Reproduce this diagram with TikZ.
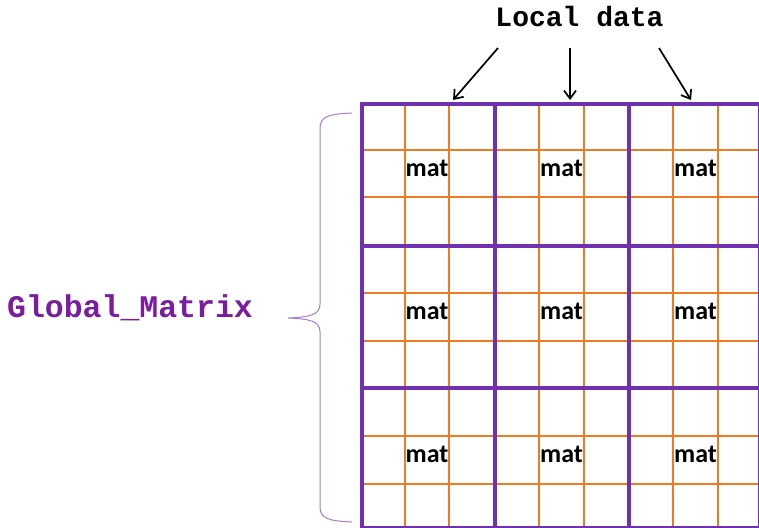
\documentclass[tikz,border=0pt]{standalone}
\usepackage{fontspec}
\setmainfont{Carlito}
\newfontfamily\codefont{Liberation Mono}
\usetikzlibrary{arrows.meta}

\definecolor{blockpurple}{RGB}{112,48,176}
\definecolor{labelpurple}{RGB}{122,28,160}
\definecolor{bracepurple}{RGB}{165,125,215}
\definecolor{cellorange}{RGB}{240,122,34}

\tikzset{
  cellline/.style={draw=cellorange, line width=2.2pt},
  blockline/.style={draw=blockpurple, line width=4pt, line cap=rect},
  matlabel/.style={font=\fontsize{26}{30}\selectfont\bfseries, anchor=base, inner sep=0pt},
  codelabel/.style={anchor=base, inner sep=0pt},
  pointer/.style={draw=black, line width=1.7pt,
    -{Straight Barb[length=8pt, width=12pt, line width=1.7pt]}},
}

\begin{document}
\begin{tikzpicture}[x=1pt, y=-1pt]
\useasboundingbox (0,0) rectangle (759,527);

% the distributed matrix: 3x3 blocks, each split into 3x3 cells
\begin{scope}
  \clip (0,0) rectangle (759,527);
  \foreach \x in {405,449,539,584,673,718}
    \draw[cellline] (\x,104) -- (\x,530);
  \foreach \y in {150,197,293,341,436,484}
    \draw[cellline] (362,\y) -- (762,\y);
  \foreach \x in {362,495,629,760}
    \draw[blockline] (\x,104) -- (\x,528);
  \foreach \y in {104,246,388,528}
    \draw[blockline] (362,\y) -- (760,\y);
\end{scope}

% local array in the centre cell of every block
\foreach \cx [count=\i] in {427,561.5,695.5}
  \foreach \by [count=\j] in {176,319.5,462.5}
    \node[matlabel] (mat\j\i) at (\cx,\by) {mat};

% heading and pointers to the blocks of the top row
\node[codelabel, font=\codefont\bfseries\fontsize{28}{32}\selectfont] (local) at (579.5,27) {Local data};
\coordinate (from1) at (498,48);
\coordinate (from2) at (570,48);
\coordinate (from3) at (659,48);
\coordinate (to1) at (453,100);
\coordinate (to2) at (570,100);
\coordinate (to3) at (691,100);
\foreach \k in {1,2,3}
  \draw[pointer] (from\k) -- (to\k);

% brace spanning the whole matrix
\draw[bracepurple, line width=1pt]
  (352,113) .. controls (330,114) and (320,116) .. (320,128)
  -- (320,304) .. controls (320,315) and (310,317) .. (288,318)
  .. controls (310,319) and (320,321) .. (320,332)
  -- (320,507) .. controls (320,519) and (330,521) .. (352,522);

\node[codelabel, text=labelpurple, font=\codefont\bfseries\fontsize{31.5}{36}\selectfont] (global) at (130,317) {Global\_Matrix};
\end{tikzpicture}
\end{document}
